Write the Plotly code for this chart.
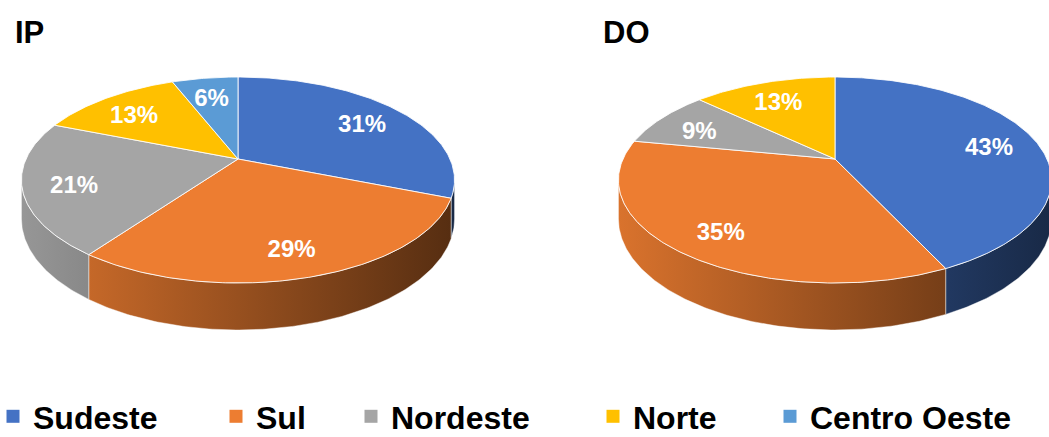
import numpy as np
import plotly.graph_objects as go

# ---------------- data ----------------
categories = ["Sudeste", "Sul", "Nordeste", "Norte", "Centro Oeste"]
ip_values = [31, 29, 21, 13, 6]
do_values = [43, 35, 9, 13, 0]
chart_titles = ["IP", "DO"]
colors = ["#4472C4", "#ED7D31", "#A5A5A5", "#FFC000", "#5B9BD5"]

# ---------------- geometry (pixel space) ----------------
W, H = 1049, 437
CY = 159.0
RX, RY = 212.0, 98.7
K = 0.204          # perspective strength
D0 = 37.4          # thickness of the pie
CENTERS = [238.0, 835.0]
LABEL_R = 0.77
FONT = "Liberation Sans, Arial, sans-serif"


def proj(cx, th, r=1.0, depth=0.0):
    th = np.asarray(th, dtype=float)
    u = r * np.sin(th)
    v = -r * np.cos(th)
    s = 1.0 / (1.0 - K * v)
    s_rim = 1.0 / (1.0 + K * np.cos(th))
    return cx + RX * u * s, CY + RY * v * s + depth * D0 * s_rim


def shade(hexc, f):
    hexc = hexc.lstrip("#")
    r, g, b = (int(hexc[i:i + 2], 16) for i in (0, 2, 4))
    return "rgb(%d,%d,%d)" % (r * f, g * f, b * f)


TH_R = np.arccos(-K)
TH_L = 2 * np.pi - TH_R

fig = go.Figure()
side_traces, top_traces, label_x, label_y, label_t = [], [], [], [], []

for cx, values in zip(CENTERS, [ip_values, do_values]):
    total = float(sum(values))
    start = 0.0
    xmin = cx - RX * 1.03
    xmax = cx + RX * 1.03
    for name, val, col in zip(categories, values, colors):
        if val <= 0:
            continue
        a0 = start / total * 2 * np.pi
        a1 = (start + val) / total * 2 * np.pi
        start += val
        # ---- side (visible front part only)
        s0, s1 = max(a0, TH_R), min(a1, TH_L)
        if s1 > s0:
            n = max(3, int((s1 - s0) * 80))
            th = np.linspace(s0, s1, n)
            xt, yt = proj(cx, th)
            xb, yb = proj(cx, th[::-1], depth=1.0)
            xs = np.concatenate([xt, xb, xt[:1]])
            ys = np.concatenate([yt, yb, yt[:1]])
            side_traces.append(go.Scatter(
                x=xs, y=ys, mode="lines", fill="toself",
                line=dict(color="rgba(255,255,255,0.55)", width=0.8),
                fillgradient=dict(type="horizontal", start=xmin, stop=xmax,
                                  colorscale=[[0, shade(col, 0.92)], [1, shade(col, 0.36)]]),
                hoverinfo="skip", showlegend=False))
        # ---- top face
        n = max(3, int((a1 - a0) * 80))
        th = np.linspace(a0, a1, n)
        xr, yr = proj(cx, th)
        xs = np.concatenate([[cx], xr, [cx]])
        ys = np.concatenate([[CY], yr, [CY]])
        top_traces.append(go.Scatter(
            x=xs, y=ys, mode="lines", fill="toself", fillcolor=col,
            line=dict(color="rgba(255,255,255,0.85)", width=1),
            name=name, hoverinfo="name", showlegend=False))
        # ---- label
        am = (a0 + a1) / 2
        lx, ly = proj(cx, am, r=LABEL_R)
        label_x.append(float(lx))
        label_y.append(float(ly) + 6)
        label_t.append("%d%%" % val)

for t in side_traces + top_traces:
    fig.add_trace(t)

fig.add_trace(go.Scatter(
    x=label_x, y=label_y, mode="text", text=label_t,
    textfont=dict(family=FONT, size=24, color="white", weight="bold"),
    hoverinfo="skip", showlegend=False))

# ---------------- legend (one legend per entry) ----------------
legend_left = [10, 233, 368, 610, 787]
layout_legends = {}
for i, (name, col) in enumerate(zip(categories, colors)):
    key = "legend" if i == 0 else "legend%d" % (i + 1)
    fig.add_trace(go.Scatter(
        x=[None], y=[None], mode="markers", name=name,
        marker=dict(symbol="square", size=13, color=col),
        legend=key, showlegend=True))
    layout_legends[key] = dict(
        x=(legend_left[i] - 17) / W, xanchor="left",
        y=-7 / H, yanchor="bottom",
        orientation="h", bgcolor="rgba(0,0,0,0)",
        font=dict(family=FONT, size=32, color="black", weight="bold"))

# ---------------- titles ----------------
title_x = [13, 601]
annotations = [
    dict(x=tx, y=32, xref="x", yref="y", text=t, showarrow=False,
         xanchor="left", yanchor="middle",
         font=dict(family=FONT, size=31, color="black", weight="bold"))
    for tx, t in zip(title_x, chart_titles)
]

fig.update_layout(
    width=W, height=H,
    margin=dict(l=0, r=0, t=0, b=0, autoexpand=False),
    paper_bgcolor="white", plot_bgcolor="white",
    xaxis=dict(range=[0, W], visible=False, fixedrange=True),
    yaxis=dict(range=[H, 0], visible=False, fixedrange=True),
    annotations=annotations,
    showlegend=True,
    **layout_legends,
)

fig.write_html("out.html")
